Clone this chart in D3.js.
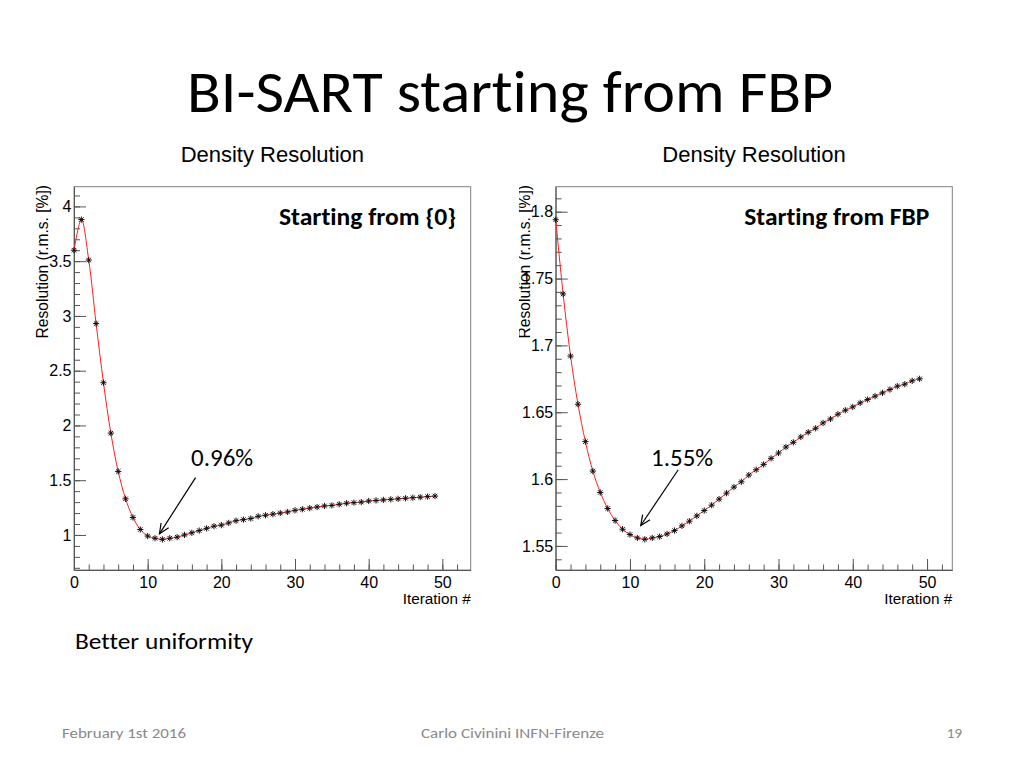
<!DOCTYPE html>
<html><head><meta charset="utf-8">
<script src="https://cdn.jsdelivr.net/npm/d3@7"></script>
<style>body{margin:0;background:#fff} text{font-variant-ligatures:none;font-feature-settings:"liga" 0,"clig" 0;}</style>
</head><body>
<svg id="c" width="1024" height="768"></svg>
<script>
// ---- data ----
const iterations = [0,1,2,3,4,5,6,7,8,9,10,11,12,13,14,15,16,17,18,19,20,21,22,23,24,25,26,27,28,29,30,31,32,33,34,35,36,37,38,39,40,41,42,43,44,45,46,47,48,49];
const leftValues = [3.60,3.88,3.51,2.93,2.39,1.93,1.58,1.33,1.16,1.05,
  0.99,0.97,0.96,0.97,0.98,1.00,1.02,1.04,1.06,1.08,
  1.09,1.11,1.13,1.14,1.15,1.17,1.18,1.19,1.20,1.21,
  1.225,1.235,1.245,1.255,1.265,1.27,1.28,1.29,1.295,1.30,
  1.31,1.315,1.32,1.325,1.33,1.335,1.34,1.345,1.35,1.355];
const rightValues = [1.794,1.7385,1.692,1.656,1.628,1.606,1.590,1.578,1.569,1.5625,
  1.5585,1.556,1.555,1.556,1.557,1.559,1.5615,1.565,1.5685,1.5725,
  1.5765,1.5805,1.585,1.5895,1.594,1.598,1.603,1.607,1.611,1.6155,
  1.6195,1.624,1.6275,1.6315,1.635,1.638,1.642,1.645,1.6485,1.6515,
  1.654,1.657,1.6595,1.662,1.6645,1.667,1.6695,1.671,1.6735,1.675];
const xTicks = [0,10,20,30,40,50];
const leftYTicks = [1,1.5,2,2.5,3,3.5,4];
const rightYTicks = [1.55,1.6,1.65,1.7,1.75,1.8];
const panelTitle = "Density Resolution";
const yTitle = "Resolution (r.m.s. [%])";
const xTitle = "Iteration #";
const leftLabel = "Starting from {0}";
const rightLabel = "Starting from FBP";
const leftMinText = "0.96%";
const rightMinText = "1.55%";

const ROOTFONT = "'Liberation Sans', Arial, sans-serif";
const CAL = "Carlito, Calibri, Lato, sans-serif";
const svg = d3.select('#c');

// slide texts
svg.append('text').attr('x',187).attr('y',111.7).attr('font-family',CAL).attr('font-size',60)
  .attr('textLength',646).attr('lengthAdjust','spacingAndGlyphs').attr('fill','#000')
  .text('BI-SART starting from FBP');
svg.append('text').attr('x',75).attr('y',649).attr('font-family',CAL).attr('font-size',21.5)
  .attr('textLength',178).attr('lengthAdjust','spacingAndGlyphs').attr('fill','#000')
  .text('Better uniformity');
svg.append('text').attr('x',62).attr('y',738).attr('font-family',CAL).attr('font-size',15)
  .attr('textLength',124).attr('lengthAdjust','spacingAndGlyphs').attr('fill','#898989')
  .text('February 1st 2016');
svg.append('text').attr('x',421).attr('y',738).attr('font-family',CAL).attr('font-size',15)
  .attr('textLength',183).attr('lengthAdjust','spacingAndGlyphs').attr('fill','#898989')
  .text('Carlo Civinini INFN-Firenze');
svg.append('text').attr('x',962).attr('y',738).attr('font-family',CAL).attr('font-size',15)
  .attr('text-anchor','end').attr('fill','#898989').text('19');

const defs = svg.append('defs');
defs.append('clipPath').attr('id','rclip').append('rect')
  .attr('x',519).attr('y',150).attr('width',60).attr('height',250);

function starPath(s){
  const d = s*0.72;
  return `M${-s},0H${s}M0,${-s}V${s}M${-d},${-d}L${d},${d}M${-d},${d}L${d},${-d}`;
}

function panel(cfg){
  const g = svg.append('g');
  const x = d3.scaleLinear().domain(cfg.xDomain).range(cfg.xRange);
  const y = d3.scaleLinear().domain(cfg.yDomain).range(cfg.yRange);
  const [x0,x1] = cfg.xRange, [y0,y1] = cfg.yRange;

  // frame
  g.append('rect').attr('x',x0).attr('y',y1).attr('width',x1-x0).attr('height',y0-y1)
    .attr('fill','none').attr('stroke','#808080').attr('stroke-width',1);

  // x minor ticks
  const xMinor = d3.range(0, cfg.xDomain[1], 2);
  g.append('g').attr('transform',`translate(0,${y0})`)
    .call(d3.axisBottom(x).tickValues(xMinor).tickSizeInner(-5.5).tickSizeOuter(0).tickFormat(''))
    .call(a=>{a.select('.domain').remove(); a.selectAll('line').attr('stroke','#555');});
  // x major
  g.append('g').attr('transform',`translate(0,${y0})`)
    .call(d3.axisBottom(x).tickValues(cfg.xTicks).tickSizeInner(-11).tickSizeOuter(0).tickPadding(7).tickFormat(d3.format('d')))
    .call(a=>{
      a.select('.domain').attr('stroke','#555');
      a.selectAll('line').attr('stroke','#555');
      a.selectAll('text').attr('font-family',ROOTFONT).attr('font-size',16).attr('fill','#000').attr('dy','0.71em').attr('y',6.5);
    });
  // y minor
  g.append('g').attr('transform',`translate(${x0},0)`)
    .call(d3.axisLeft(y).tickValues(cfg.yMinor).tickSizeInner(-6).tickSizeOuter(0).tickFormat(''))
    .call(a=>{a.select('.domain').remove(); a.selectAll('line').attr('stroke','#555');});
  // y major
  g.append('g').attr('transform',`translate(${x0},0)`)
    .call(d3.axisLeft(y).tickValues(cfg.yTicks).tickSizeInner(-12).tickSizeOuter(0).tickPadding(2.5).tickFormat(d=>String(d)))
    .call(a=>{
      a.select('.domain').attr('stroke','#555');
      a.selectAll('line').attr('stroke','#555');
      a.selectAll('text').attr('font-family',ROOTFONT).attr('font-size',16).attr('fill','#000');
    });

  // titles
  g.append('text').attr('x',(x0+x1)/2).attr('y',161.7).attr('text-anchor','middle')
    .attr('font-family',ROOTFONT).attr('font-size',22).attr('fill','#000').text(panelTitle);
  g.append('text').attr('x',x1).attr('y',603.5).attr('text-anchor','end')
    .attr('font-family',ROOTFONT).attr('font-size',15.3).attr('fill','#000').text(xTitle);
  const yg = g.append('g');
  if (cfg.clip) yg.attr('clip-path','url(#rclip)');
  yg.append('text').attr('transform',`translate(${cfg.yTitleX},185) rotate(-90)`)
    .attr('text-anchor','end').attr('font-family',ROOTFONT).attr('font-size',15.6).attr('fill','#000').text(yTitle);

  // curve
  const pts = iterations.map((it,i)=>[it, cfg.values[i]]);
  g.append('path').datum(pts)
    .attr('d', d3.line().x(d=>x(d[0])).y(d=>y(d[1])).curve(d3.curveCatmullRom.alpha(0.5)))
    .attr('fill','none').attr('stroke','#ff2020').attr('stroke-width',1);
  // markers
  g.append('g').selectAll('path').data(pts).join('path')
    .attr('transform',d=>`translate(${x(d[0])},${y(d[1])})`)
    .attr('d',starPath(3.1)).attr('stroke','#111').attr('stroke-width',1).attr('fill','none');

  // labels
  g.append('text').attr('x',cfg.labelX).attr('y',225).attr('font-family',CAL).attr('font-weight','bold')
    .attr('font-size',24).attr('textLength',cfg.labelW).attr('lengthAdjust','spacingAndGlyphs')
    .attr('fill','#000').text(cfg.label);
  g.append('text').attr('x',x(cfg.minText[0])).attr('y',y(cfg.minText[1])).attr('font-family',CAL)
    .attr('font-size',24).attr('textLength',62).attr('lengthAdjust','spacingAndGlyphs')
    .attr('fill','#000').text(cfg.minLabel);

  // arrow
  const [ax0,ay0,ax1,ay1] = [x(cfg.arrow[0]),y(cfg.arrow[1]),x(cfg.arrow[2]),y(cfg.arrow[3])];
  g.append('line').attr('x1',ax0).attr('y1',ay0).attr('x2',ax1).attr('y2',ay1)
    .attr('stroke','#000').attr('stroke-width',1.2);
  const ang = Math.atan2(ay1-ay0, ax1-ax0), L = 11, spread = 0.42;
  const p1 = [ax1 - L*Math.cos(ang-spread), ay1 - L*Math.sin(ang-spread)];
  const p2 = [ax1 - L*Math.cos(ang+spread), ay1 - L*Math.sin(ang+spread)];
  g.append('path').attr('d',`M${p1[0]},${p1[1]}L${ax1},${ay1}L${p2[0]},${p2[1]}`)
    .attr('fill','none').attr('stroke','#000').attr('stroke-width',1.2);
}

panel({
  xDomain:[0,53.85], xRange:[74,470.7], yDomain:[0.68,4.18], yRange:[570,186.7],
  xTicks: xTicks, yTicks: leftYTicks, yMinor: d3.range(7,42).map(v=>v/10),
  values: leftValues, yTitleX: 48, clip:false,
  label: leftLabel, labelX: 279, labelW: 177,
  minLabel: leftMinText, minText:[15.9,1.633], arrow:[16.5,1.524,11.6,1.01]
});
panel({
  xDomain:[0,53.4], xRange:[555.7,952.3], yDomain:[1.532,1.8187], yRange:[570,186.7],
  xTicks: xTicks, yTicks: rightYTicks, yMinor: d3.range(154,182).map(v=>v/100),
  values: rightValues, yTitleX: 530, clip:true,
  label: rightLabel, labelX: 744.3, labelW: 185,
  minLabel: rightMinText, minText:[12.85,1.610], arrow:[16.5,1.607,11.45,1.5653]
});
</script>
</body></html>
